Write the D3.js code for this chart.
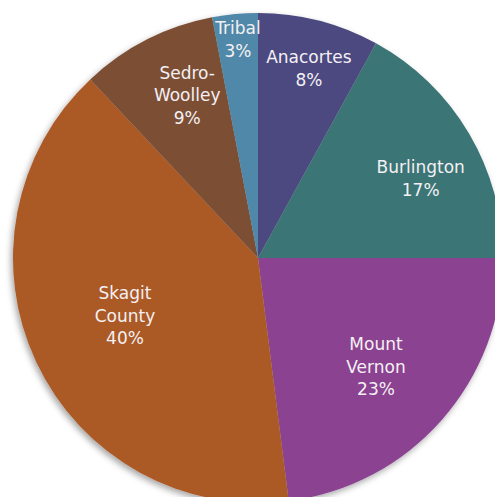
<!DOCTYPE html>
<html>
<head>
<meta charset="utf-8">
<script src="https://cdn.jsdelivr.net/npm/d3@7"></script>
<style>
  html, body { margin: 0; padding: 0; background: #fff; }
  svg { display: block; }
</style>
</head>
<body>
<div id="chart"></div>
<script>
// Data
const categories = ["Anacortes", "Burlington", "Mount Vernon", "Skagit County", "Sedro-Woolley", "Tribal"];
const shares = [8, 17, 23, 40, 9, 3];
const labelLines = [["Anacortes"], ["Burlington"], ["Mount", "Vernon"], ["Skagit", "County"], ["Sedro-", "Woolley"], ["Tribal"]];
const colors = ["#4c4a80", "#3b7474", "#8b4290", "#ab5a27", "#7b4f36", "#4f88a8"];

(function(){
  const width = 495, height = 497;
  const cx = 258, cy = 258, radius = 245;
  // label placement (Excel best-fit look): distance as fraction of radius, angle nudge in degrees
  const labelDist = [0.808, 0.742, 0.65, 0.589, 0.731, 0.902];
  const labelNudge = [0.5, 4.1, 0.8, 2.4, 3.7, 0.2];

  const svg = d3.select("#chart").append("svg")
    .attr("width", width)
    .attr("height", height);

  const defs = svg.append("defs");
  const f = defs.append("filter").attr("id", "shadow")
    .attr("x", "-10%").attr("y", "-10%").attr("width", "120%").attr("height", "120%");
  f.append("feDropShadow")
    .attr("dx", -2).attr("dy", 3)
    .attr("stdDeviation", 3)
    .attr("flood-color", "#000")
    .attr("flood-opacity", 0.35);

  const g = svg.append("g").attr("transform", `translate(${cx},${cy})`);

  const pie = d3.pie().value(d => d).sort(null);
  const arcs = pie(shares);
  const arc = d3.arc().innerRadius(0).outerRadius(radius);

  g.append("g").attr("filter", "url(#shadow)")
    .selectAll("path")
    .data(arcs)
    .join("path")
    .attr("d", arc)
    .attr("fill", (d, i) => colors[i]);

  const lineH = 22.5;
  arcs.forEach((d, i) => {
    const r = radius * labelDist[i];
    const a = (d.startAngle + d.endAngle) / 2 + labelNudge[i] * Math.PI / 180;
    const x = r * Math.sin(a), y = -r * Math.cos(a);
    const lines = labelLines[i].concat([shares[i] + "%"]);
    const t = g.append("text")
      .attr("text-anchor", "middle")
      .style("font-family", "DejaVu Sans, Verdana, sans-serif")
      .style("font-size", "17px")
      .style("fill", "#f4f0f4");
    const y0 = y - (lines.length - 1) * lineH / 2;
    lines.forEach((s, k) => {
      t.append("tspan")
        .attr("x", x)
        .attr("y", y0 + k * lineH)
        .attr("dy", "0.45em")
        .text(s);
    });
  });
})();
</script>
</body>
</html>
